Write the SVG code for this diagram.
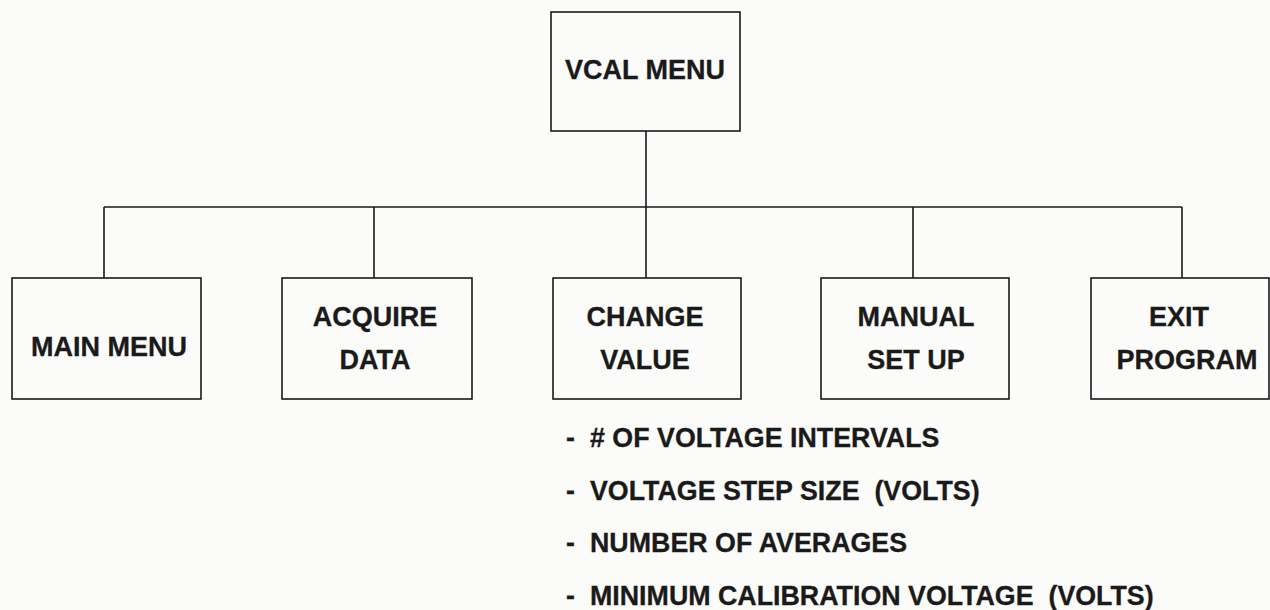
<svg xmlns="http://www.w3.org/2000/svg" width="1270" height="610" viewBox="0 0 1270 610">
  <style>
    .box { fill: none; stroke: #1a1a1a; stroke-width: 1.6; }
    .wire { fill: none; stroke: #1a1a1a; stroke-width: 1.6; }
    .lbl { font-family: "Liberation Sans", Arial, sans-serif; font-weight: bold; font-size: 27px; fill: #1a1a1a; stroke: #1a1a1a; stroke-width: 0.3; text-anchor: middle; }
    .item { font-family: "Liberation Sans", Arial, sans-serif; font-weight: bold; font-size: 26.8px; fill: #1a1a1a; stroke: #1a1a1a; stroke-width: 0.3; }
  </style>
  <rect width="1270" height="610" fill="#fbfbf9"/>

  <!-- tree connectors -->
  <g id="connectors">
    <path class="wire" d="M646 131 V278"/>
    <path class="wire" d="M104 207 H1182"/>
    <path class="wire" d="M104 207 V278"/>
    <path class="wire" d="M374 207 V278"/>
    <path class="wire" d="M913 207 V278"/>
    <path class="wire" d="M1182 207 V278"/>
  </g>

  <g id="vcal-menu">
    <rect class="box" x="551" y="12" width="189" height="119"/>
    <text class="lbl" x="645" y="79">VCAL MENU</text>
  </g>

  <g id="main-menu">
    <rect class="box" x="12" y="278" width="189" height="121"/>
    <text class="lbl" x="109" y="356">MAIN MENU</text>
  </g>

  <g id="acquire-data">
    <rect class="box" x="282" y="278" width="190" height="121"/>
    <text class="lbl" x="375" y="326">ACQUIRE</text>
    <text class="lbl" x="375" y="369">DATA</text>
  </g>

  <g id="change-value">
    <rect class="box" x="553" y="278" width="188" height="121"/>
    <text class="lbl" x="645" y="326">CHANGE</text>
    <text class="lbl" x="645" y="369">VALUE</text>
  </g>

  <g id="manual-set-up">
    <rect class="box" x="821" y="278" width="188" height="121"/>
    <text class="lbl" x="916" y="326">MANUAL</text>
    <text class="lbl" x="916" y="369">SET UP</text>
  </g>

  <g id="exit-program">
    <rect class="box" x="1091" y="278" width="178" height="121"/>
    <text class="lbl" x="1179" y="326">EXIT</text>
    <text class="lbl" x="1187" y="369">PROGRAM</text>
  </g>

  <!-- values that CHANGE VALUE can edit -->
  <g id="change-value-items">
    <text class="item" x="566" y="447">-</text>
    <text class="item" x="590" y="447"># OF VOLTAGE INTERVALS</text>
    <text class="item" x="566" y="500">-</text>
    <text class="item" x="590" y="500" xml:space="preserve">VOLTAGE STEP SIZE  (VOLTS)</text>
    <text class="item" x="566" y="552">-</text>
    <text class="item" x="590" y="552">NUMBER OF AVERAGES</text>
    <text class="item" x="566" y="605">-</text>
    <text class="item" x="590" y="605" xml:space="preserve">MINIMUM CALIBRATION VOLTAGE  (VOLTS)</text>
  </g>
</svg>
